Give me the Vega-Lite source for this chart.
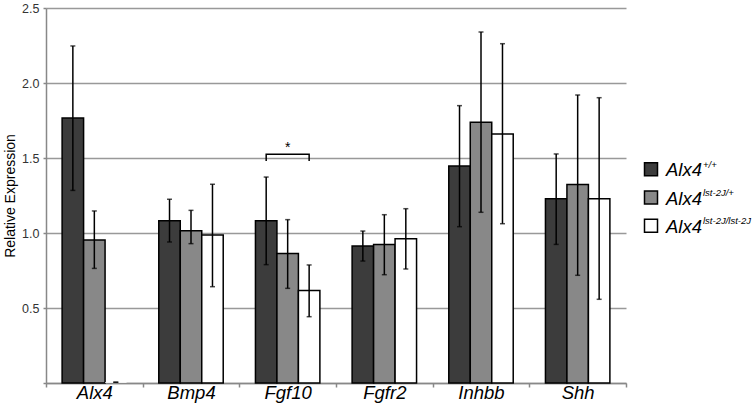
{
  "$schema": "https://vega.github.io/schema/vega-lite/v6.json",
  "padding": {"left": 3, "top": 2, "right": 0, "bottom": 2},
  "bounds": "flush",
  "spacing": 25,
  "background": "white",
  "config": {"view": {"stroke": null}, "font": "Liberation Sans"},
  "datasets": {
    "bars": [
      {"gene": "Alx4", "genotype": "+/+", "value": 1.767, "lo": 1.284, "hi": 2.247},
      {"gene": "Alx4", "genotype": "lst-2J/+", "value": 0.953, "lo": 0.764, "hi": 1.147},
      {"gene": "Alx4", "genotype": "lst-2J/lst-2J", "value": 0.005, "lo": 0.005, "hi": 0.005},
      {"gene": "Bmp4", "genotype": "+/+", "value": 1.082, "lo": 0.94, "hi": 1.225},
      {"gene": "Bmp4", "genotype": "lst-2J/+", "value": 1.015, "lo": 0.929, "hi": 1.151},
      {"gene": "Bmp4", "genotype": "lst-2J/lst-2J", "value": 0.987, "lo": 0.642, "hi": 1.325},
      {"gene": "Fgf10", "genotype": "+/+", "value": 1.082, "lo": 0.789, "hi": 1.373},
      {"gene": "Fgf10", "genotype": "lst-2J/+", "value": 0.864, "lo": 0.631, "hi": 1.089},
      {"gene": "Fgf10", "genotype": "lst-2J/lst-2J", "value": 0.616, "lo": 0.442, "hi": 0.787},
      {"gene": "Fgfr2", "genotype": "+/+", "value": 0.913, "lo": 0.813, "hi": 1.013},
      {"gene": "Fgfr2", "genotype": "lst-2J/+", "value": 0.924, "lo": 0.722, "hi": 1.122},
      {"gene": "Fgfr2", "genotype": "lst-2J/lst-2J", "value": 0.962, "lo": 0.76, "hi": 1.162},
      {"gene": "Inhbb", "genotype": "+/+", "value": 1.447, "lo": 1.042, "hi": 1.849},
      {"gene": "Inhbb", "genotype": "lst-2J/+", "value": 1.738, "lo": 1.138, "hi": 2.34},
      {"gene": "Inhbb", "genotype": "lst-2J/lst-2J", "value": 1.66, "lo": 1.062, "hi": 2.262},
      {"gene": "Shh", "genotype": "+/+", "value": 1.229, "lo": 0.924, "hi": 1.527},
      {"gene": "Shh", "genotype": "lst-2J/+", "value": 1.324, "lo": 0.718, "hi": 1.92},
      {"gene": "Shh", "genotype": "lst-2J/lst-2J", "value": 1.229, "lo": 0.558, "hi": 1.902}
    ],
    "bracket": [
      {"gene": "Fgf10", "genotype": "+/+", "value": 1.48, "ord": 1},
      {"gene": "Fgf10", "genotype": "+/+", "value": 1.525, "ord": 2},
      {"gene": "Fgf10", "genotype": "lst-2J/lst-2J", "value": 1.525, "ord": 3},
      {"gene": "Fgf10", "genotype": "lst-2J/lst-2J", "value": 1.48, "ord": 4}
    ],
    "star": [
      {"gene": "Fgf10", "genotype": "lst-2J/+", "value": 1.54, "label": "*"}
    ],
    "legend": [
      {"genotype": "+/+", "base": "Alx4", "sup": "+/+"},
      {"genotype": "lst-2J/+", "base": "Alx4", "sup": "lst-2J/+"},
      {"genotype": "lst-2J/lst-2J", "base": "Alx4", "sup": "lst-2J/lst-2J"}
    ]
  },
  "hconcat": [
    {
      "width": 580,
      "height": 375,
      "encoding": {
        "x": {
          "field": "gene", "type": "nominal",
          "sort": ["Alx4", "Bmp4", "Fgf10", "Fgfr2", "Inhbb", "Shh"],
          "scale": {"paddingInner": 0, "paddingOuter": 0},
          "axis": {
            "title": null, "labelAngle": 0, "labelFontSize": 18.5, "labelFontStyle": "italic",
            "labelColor": "black", "labelPadding": -4, "tickBand": "extent", "tickSize": 4,
            "tickColor": "#888", "tickWidth": 1.5, "domainColor": "#888", "domainWidth": 1.5
          }
        },
        "xOffset": {
          "field": "genotype", "type": "nominal",
          "sort": ["+/+", "lst-2J/+", "lst-2J/lst-2J"],
          "scale": {"paddingInner": 0, "paddingOuter": 0.75}
        }
      },
      "layer": [
        {
          "data": {"name": "bars"},
          "mark": {"type": "bar", "stroke": "black"},
          "encoding": {
            "y": {
              "field": "value", "type": "quantitative",
              "scale": {"domain": [0, 2.5], "nice": false},
              "axis": {
                "values": [0, 0.5, 1, 1.5, 2, 2.5], "format": ".1f",
                "labelExpr": "datum.value == 0 ? '' : datum.label",
                "title": "Relative Expression", "titleFontSize": 14, "titleFontWeight": "normal",
                "titleColor": "black", "titlePadding": 4,
                "labelFontSize": 12.5, "labelColor": "#333", "labelPadding": 4,
                "grid": true, "gridColor": "#999", "gridWidth": 1.5,
                "domainColor": "#888", "domainWidth": 1.5,
                "tickColor": "#888", "tickWidth": 1.5, "tickSize": 3
              }
            },
            "fill": {
              "field": "genotype", "type": "nominal",
              "scale": {"domain": ["+/+", "lst-2J/+", "lst-2J/lst-2J"], "range": ["#3c3c3c", "#888888", "#ffffff"]},
              "legend": null
            },
            "strokeWidth": {"condition": {"test": "datum.value < 0.02", "value": 0}, "value": 1.5}
          }
        },
        {
          "data": {"name": "bars"},
          "mark": {"type": "rule", "color": "black", "strokeWidth": 1.5},
          "encoding": {
            "y": {"field": "lo", "type": "quantitative"},
            "y2": {"field": "hi"}
          }
        },
        {
          "data": {"name": "bars"},
          "mark": {"type": "tick", "color": "black", "thickness": 1.5, "size": 5, "orient": "horizontal"},
          "encoding": {"y": {"field": "lo", "type": "quantitative"}}
        },
        {
          "data": {"name": "bars"},
          "mark": {"type": "tick", "color": "black", "thickness": 1.5, "size": 5, "orient": "horizontal"},
          "encoding": {"y": {"field": "hi", "type": "quantitative"}}
        },
        {
          "data": {"name": "bracket"},
          "mark": {"type": "line", "color": "black", "strokeWidth": 1.5},
          "encoding": {
            "y": {"field": "value", "type": "quantitative"},
            "order": {"field": "ord", "type": "quantitative"}
          }
        },
        {
          "data": {"name": "star"},
          "mark": {"type": "text", "fontSize": 14, "color": "black", "baseline": "alphabetic"},
          "encoding": {
            "y": {"field": "value", "type": "quantitative"},
            "text": {"field": "label"}
          }
        }
      ]
    },
    {
      "width": 100,
      "height": 375,
      "data": {"name": "legend"},
      "encoding": {
        "y": {
          "field": "genotype", "type": "nominal",
          "sort": ["+/+", "lst-2J/+", "lst-2J/lst-2J"],
          "scale": {"type": "point", "range": [147, 232]},
          "axis": null
        },
        "x": {"datum": 0, "type": "quantitative", "scale": {"domain": [0, 1]}, "axis": null}
      },
      "layer": [
        {
          "mark": {"type": "point", "shape": "square", "filled": true, "size": 169, "stroke": "black", "strokeWidth": 1.5, "opacity": 1},
          "encoding": {
            "fill": {
              "field": "genotype", "type": "nominal",
              "scale": {"domain": ["+/+", "lst-2J/+", "lst-2J/lst-2J"], "range": ["#3c3c3c", "#888888", "#ffffff"]},
              "legend": null
            }
          }
        },
        {
          "mark": {"type": "text", "align": "left", "baseline": "alphabetic", "dx": 15, "dy": 7, "fontSize": 18.5, "fontStyle": "italic", "color": "black"},
          "encoding": {"text": {"field": "base"}}
        },
        {
          "mark": {"type": "text", "align": "left", "baseline": "alphabetic", "dx": 52, "dy": -1.5, "fontSize": 9.5, "fontStyle": "italic", "color": "black"},
          "encoding": {"text": {"field": "sup"}}
        }
      ]
    }
  ]
}
